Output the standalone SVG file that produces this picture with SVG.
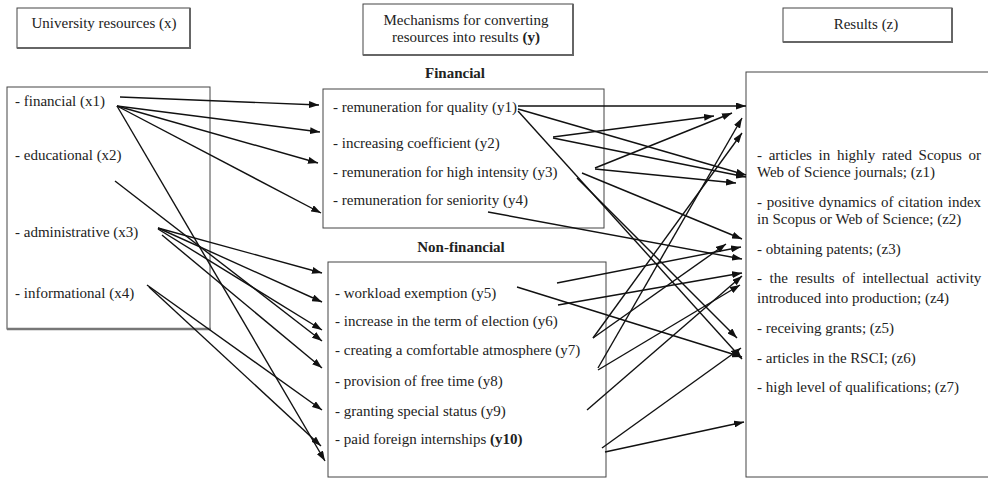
<svg xmlns="http://www.w3.org/2000/svg" width="988" height="479" viewBox="0 0 988 479">
<defs>
<marker id="ah" markerUnits="userSpaceOnUse" markerWidth="10" markerHeight="7" refX="10" refY="3.5" orient="auto">
<path d="M0,0 L10,3.5 L0,7 z" fill="#111"/>
</marker>
<style>
.t{font-family:"Liberation Serif","Times New Roman",serif;font-size:15px;fill:#222}
.b{font-weight:bold}
.box{fill:#fff;stroke:#444;stroke-width:1}
.sh{fill:none;stroke:#666;stroke-width:2}
.c line{stroke:#111;stroke-width:1.4;marker-end:url(#ah)}
</style>
</defs>
<rect width="988" height="479" fill="#fff"/>

<g id="hdr-x">
<rect class="box" x="17" y="8" width="173" height="40"/>
<polyline class="sh" points="190,8 190,48 17,48"/>
<text class="t" x="104" y="28" text-anchor="middle">University resources (x)</text>
</g>
<g id="hdr-y">
<rect class="box" x="363" y="4" width="210" height="51"/>
<polyline class="sh" points="573,4 573,55 363,55"/>
<text class="t" x="466" y="25" text-anchor="middle">Mechanisms for converting</text>
<text class="t" x="466" y="42" text-anchor="middle">resources into results <tspan class="b">(y)</tspan></text>
</g>
<g id="hdr-z">
<rect class="box" x="783" y="8" width="169" height="34"/>
<polyline class="sh" points="952,8 952,42 783,42"/>
<text class="t" x="866" y="29" text-anchor="middle">Results (z)</text>
</g>

<g id="resources">
<rect class="box" x="7" y="87" width="203" height="242"/>
<line x1="7" y1="329" x2="211" y2="329" stroke="#777" stroke-width="2.5"/>
<text class="t" x="15" y="105.5">- financial (x1)</text>
<text class="t" x="15" y="159.5">- educational (x2)</text>
<text class="t" x="15" y="236.5">- administrative (x3)</text>
<text class="t" x="15" y="297.5">- informational (x4)</text>
</g>

<g id="financial">
<text class="t b" x="455" y="78" text-anchor="middle">Financial</text>
<rect class="box" x="323" y="89" width="281" height="139"/>
<text class="t" x="333" y="111.5">- remuneration for quality (y1)</text>
<text class="t" x="333" y="147.5">- increasing coefficient (y2)</text>
<text class="t" x="333" y="176.5">- remuneration for high intensity (y3)</text>
<text class="t" x="333" y="204.5">- remuneration for seniority (y4)</text>
</g>

<g id="nonfinancial">
<text class="t b" x="461" y="252" text-anchor="middle">Non-financial</text>
<rect class="box" x="328" y="262" width="278" height="215"/>
<text class="t" x="335" y="297.5">- workload exemption (y5)</text>
<text class="t" x="335" y="325.5">- increase in the term of election (y6)</text>
<text class="t" x="335" y="354.5">- creating a comfortable atmosphere (y7)</text>
<text class="t" x="335" y="385.5">- provision of free time (y8)</text>
<text class="t" x="335" y="415.5">- granting special status (y9)</text>
<text class="t" x="335" y="443.5">- paid foreign internships <tspan class="b">(y10)</tspan></text>
</g>

<g id="results">
<rect class="box" x="746" y="72" width="260" height="405"/>
<text class="t" x="757" y="159.5" word-spacing="2.9">- articles in highly rated Scopus or</text>
<text class="t" x="757" y="176.5">Web of Science journals; (z1)</text>
<text class="t" x="757" y="206.5" word-spacing="0.9">- positive dynamics of citation index</text>
<text class="t" x="757" y="224">in Scopus or Web of Science; (z2)</text>
<text class="t" x="757" y="253.5">- obtaining patents; (z3)</text>
<text class="t" x="757" y="282.5" word-spacing="3.8">- the results of intellectual activity</text>
<text class="t" x="757" y="302.5">introduced into production; (z4)</text>
<text class="t" x="757" y="332.5">- receiving grants; (z5)</text>
<text class="t" x="757" y="362.5">- articles in the RSCI; (z6)</text>
<text class="t" x="757" y="391.5">- high level of qualifications; (z7)</text>
</g>

<g id="connectors" class="c">
<line x1="120" y1="97" x2="319" y2="105"/>
<line x1="117" y1="106" x2="320" y2="132"/>
<line x1="117" y1="106" x2="318" y2="163"/>
<line x1="117" y1="106" x2="321" y2="213"/>
<line x1="117" y1="106" x2="325" y2="461"/>
<line x1="115" y1="181" x2="322" y2="341"/>
<line x1="158" y1="228" x2="322" y2="273"/>
<line x1="158" y1="228" x2="322" y2="302"/>
<line x1="158" y1="229" x2="322" y2="330"/>
<line x1="162" y1="235" x2="322" y2="368"/>
<line x1="147" y1="285" x2="322" y2="410"/>
<line x1="149" y1="287" x2="321" y2="446"/>

<line x1="518" y1="106" x2="746" y2="106"/>
<line x1="518" y1="109" x2="746" y2="175"/>
<line x1="518" y1="111" x2="742" y2="359"/>
<line x1="553" y1="137" x2="714" y2="116"/>
<line x1="553" y1="138" x2="746" y2="177"/>
<line x1="595" y1="168" x2="732" y2="113"/>
<line x1="595" y1="169" x2="736" y2="183"/>
<line x1="582" y1="173" x2="742" y2="239"/>
<line x1="577" y1="178" x2="737" y2="338"/>
<line x1="488" y1="212" x2="742" y2="259"/>
<line x1="517" y1="287" x2="742" y2="357"/>
<line x1="557" y1="283" x2="741" y2="247"/>
<line x1="558" y1="305" x2="742" y2="273"/>
<line x1="593" y1="338" x2="726" y2="244"/>
<line x1="593" y1="338" x2="742" y2="133"/>
<line x1="598" y1="368" x2="742" y2="118"/>
<line x1="598" y1="370" x2="740" y2="285"/>
<line x1="587" y1="410" x2="742" y2="276"/>
<line x1="602" y1="448" x2="741" y2="348"/>
<line x1="605" y1="452" x2="744" y2="422"/>
</g>
</svg>
